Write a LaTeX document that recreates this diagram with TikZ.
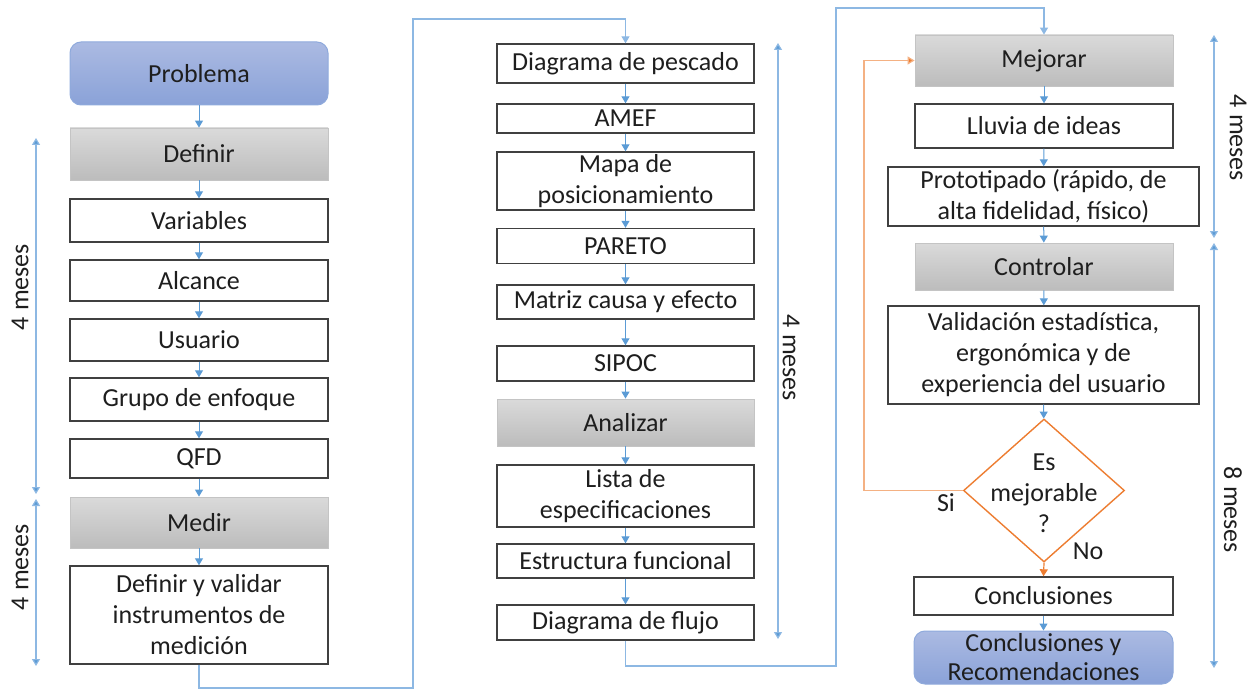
\documentclass[tikz,border=0pt]{standalone}
\usepackage{fontspec}
\setmainfont{Carlito}
\usetikzlibrary{arrows.meta,shapes.geometric}
\definecolor{lineblue}{HTML}{5B9BD5}
\definecolor{paleblue}{HTML}{8DB8E3}
\definecolor{boxedge}{HTML}{404040}
\definecolor{grayedge}{HTML}{C4C4C4}
\definecolor{graytop}{HTML}{DADADA}
\definecolor{graybot}{HTML}{BCBCBC}
\definecolor{bluetop}{HTML}{ABBAE2}
\definecolor{bluebot}{HTML}{8AA2D8}
\definecolor{blueedge}{HTML}{8FAADC}
\definecolor{orangeline}{HTML}{ED7D31}
\definecolor{paleorange}{HTML}{F4B183}
\definecolor{inktext}{HTML}{1E1E1E}
\tikzset{
  every node/.style={font=\fontsize{26}{31}\selectfont, text=inktext, inner sep=0pt, align=center},
  stepbox/.style={draw=boxedge, line width=1.4pt, fill=white},
  phasebox/.style={draw=grayedge, line width=0.8pt, top color=graytop, bottom color=graybot},
  endbox/.style={draw=blueedge, line width=1pt, rounded corners=11pt, top color=bluetop, bottom color=bluebot},
  tip/.style={-{Triangle[width=8pt,length=7pt]}},
  arr/.style={draw=lineblue, line width=1pt, tip},
  link/.style={draw=paleblue, line width=1.2pt, tip},
  span/.style={draw=paleblue, line width=1.2pt, {Triangle[width=8pt,length=7pt,fill=lineblue]}-{Triangle[width=8pt,length=7pt,fill=lineblue]}},
  loop/.style={draw=paleorange, line width=1.2pt, -{Triangle[width=8pt,length=7pt,fill=orangeline]}},
  yesno/.style={draw=orangeline, line width=1.2pt, -{Triangle[width=8pt,length=7pt]}},
}
\begin{document}
\begin{tikzpicture}[x=1pt,y=-1pt]
\useasboundingbox (0,0) rectangle (1254,690);

% ---- Definir / Medir column
\node[endbox,   minimum width=258, minimum height=63] (prob) at (199,73.5)  {Problema};
\node[phasebox, minimum width=258, minimum height=52] (def)  at (199,154)   {Definir};
\node[stepbox,  minimum width=258, minimum height=43] (var)  at (199,220.5) {Variables};
\node[stepbox,  minimum width=258, minimum height=41] (alc)  at (199,280.5) {Alcance};
\node[stepbox,  minimum width=258, minimum height=42] (usu)  at (199,340)   {Usuario};
\node[stepbox,  minimum width=258, minimum height=43] (gru)  at (199,399.5) {Grupo de enfoque};
\node[stepbox,  minimum width=258, minimum height=39] (qfd)  at (199,458.5) {QFD};
\node[phasebox, minimum width=258, minimum height=51] (med)  at (199,522.5) {Medir};
\node[stepbox,  minimum width=258, minimum height=98] (dyv)  at (199,615)   {Definir y validar\\instrumentos de\\medición};

\foreach \a/\b in {prob/def,def/var,var/alc,alc/usu,usu/gru,gru/qfd,qfd/med,med/dyv}
  \draw[arr] (\a) -- (\b);

% ---- Analizar column
\node[stepbox,  minimum width=257, minimum height=39] (pesc)   at (625.5,63.5)  {Diagrama de pescado};
\node[stepbox,  minimum width=257, minimum height=29] (amef)   at (625.5,118.5) {AMEF};
\node[stepbox,  minimum width=257, minimum height=58] (mapa)   at (625.5,181)   {Mapa de\\posicionamiento};
\node[stepbox,  minimum width=257, minimum height=35] (pareto) at (625.5,246)   {PARETO};
\node[stepbox,  minimum width=257, minimum height=34] (matriz) at (625.5,302)   {Matriz causa y efecto};
\node[stepbox,  minimum width=257, minimum height=35] (sipoc)  at (625.5,363.5) {SIPOC};
\node[phasebox, minimum width=257, minimum height=47] (anal)   at (625.5,422.5) {Analizar};
\node[stepbox,  minimum width=257, minimum height=62] (lista)  at (625.5,496)   {Lista de\\especificaciones};
\node[stepbox,  minimum width=257, minimum height=34] (estr)   at (625.5,561)   {Estructura funcional};
\node[stepbox,  minimum width=257, minimum height=35] (flujo)  at (625.5,622.5) {Diagrama de flujo};

\foreach \a/\b in {pesc/amef,amef/mapa,mapa/pareto,pareto/matriz,matriz/sipoc,sipoc/anal,anal/lista,lista/estr,estr/flujo}
  \draw[arr] (\a) -- (\b);

% ---- Mejorar / Controlar column
\node[phasebox, minimum width=258, minimum height=51] (mej)   at (1044,60.5)   {Mejorar};
\node[stepbox,  minimum width=258, minimum height=44] (lluv)  at (1044,126)    {Lluvia de ideas};
\node[stepbox,  minimum width=311, minimum height=59] (proto) at (1043.5,196.5) {Prototipado (rápido, de\\alta fidelidad, físico)};
\node[phasebox, minimum width=258, minimum height=47] (ctrl)  at (1044,266.5)  {Controlar};
\node[stepbox,  minimum width=311, minimum height=98] (valid) at (1043.5,355)  {Validación estadística,\\ergonómica y de\\experiencia del usuario};
\node[diamond, draw=orangeline, line width=1.4pt, fill=white, minimum width=161, minimum height=143] (dec) at (1044,490.5) {};
\node (dectxt) at (1044,493) {Es\\mejorable\\?};
\node[stepbox,  minimum width=259, minimum height=38] (concl) at (1043.5,596)  {Conclusiones};
\node[endbox,   minimum width=259, minimum height=53, font=\fontsize{26}{29}\selectfont] (reco) at (1043.5,657.5) {Conclusiones y\\Recomendaciones};

\foreach \a/\b in {mej/lluv,lluv/proto,proto/ctrl,ctrl/valid,valid/dec,concl/reco}
  \draw[arr] (\a) -- (\b);
\draw[yesno] (dec.south) -- (concl.north);

% decision loop back to Mejorar
\coordinate (lp1) at (864,490.5);
\coordinate (lp2) at (864,60.5);
\draw[loop] (dec.west) -- (lp1) -- (lp2) -- (mej.west);
\node (si) at (946,503) {Si};
\node (no) at (1088,551) {No};

% ---- links between columns
\coordinate (k1) at (413,688);
\coordinate (k2) at (413,19);
\draw[link] (dyv.south) |- (k1) -- (k2) -| (pesc.north);
\coordinate (k3) at (836,666);
\coordinate (k4) at (836,8);
\draw[link] (flujo.south) |- (k3) -- (k4) -| (mej.north);

% ---- durations
\coordinate (d1a) at (36,138);  \coordinate (d1b) at (36,494);
\coordinate (d2a) at (36,499);  \coordinate (d2b) at (36,666);
\coordinate (d3a) at (778,43);  \coordinate (d3b) at (778,639);
\coordinate (d4a) at (1214,35); \coordinate (d4b) at (1214,238);
\coordinate (d5a) at (1214,243); \coordinate (d5b) at (1214,668);
\draw[span] (d1a) -- (d1b);
\draw[span] (d2a) -- (d2b);
\draw[span] (d3a) -- (d3b);
\draw[span] (d4a) -- (d4b);
\draw[span] (d5a) -- (d5b);
\node[rotate=90]  (m1) at (20,287)   {4 meses};
\node[rotate=90]  (m2) at (20,567)   {4 meses};
\node[rotate=-90] (m3) at (791,358)  {4 meses};
\node[rotate=-90] (m4) at (1238,138) {4 meses};
\node[rotate=-90] (m5) at (1233,510) {8 meses};
\end{tikzpicture}
\end{document}
